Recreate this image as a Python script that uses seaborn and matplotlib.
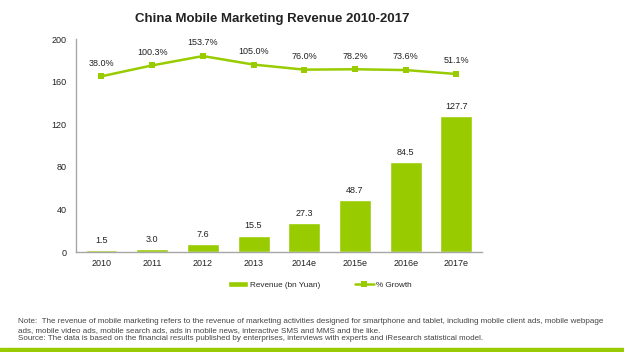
import matplotlib
matplotlib.use("Agg")
import matplotlib.pyplot as plt
import seaborn as sns
import pandas as pd
from matplotlib.patches import Rectangle

# chart data
years = ['2010', '2011', '2012', '2013', '2014e', '2015e', '2016e', '2017e']
revenue = [1.5, 3.0, 7.6, 15.5, 27.3, 48.7, 84.5, 127.7]
growth = [38.0, 100.3, 153.7, 105.0, 76.0, 78.2, 73.6, 51.1]
growth_labels = ['38.0%', '100.3%', '153.7%', '105.0%', '76.0%', '78.2%', '73.6%', '51.1%']

green = '#99CC00'
df = pd.DataFrame({'year': years, 'revenue': revenue, 'growth': growth})

sns.set_style('white')
plt.rcParams['font.family'] = ['Liberation Sans', 'DejaVu Sans']

fig = plt.figure(figsize=(6.24, 3.52), dpi=100)
ax = fig.add_axes([0.122, 0.284, 0.65, 0.605])

sns.barplot(data=df, x='year', y='revenue', color=green, width=0.63,
            saturation=1, ax=ax, label='Revenue (bn Yuan)')
for i, v in enumerate(revenue):
    ax.text(i, v + 5, f'{v:.1f}', ha='center', va='bottom', fontsize=6.5, color='#222222')

ax.set_ylim(0, 200)
ax.set_xlim(-0.5, 7.5)
ax.set_yticks([0, 40, 80, 120, 160, 200])
ax.set_xlabel('')
ax.set_ylabel('')
ax.tick_params(axis='both', labelsize=6.5, length=0, colors='#222222')
ax.tick_params(axis='y', pad=7)
ax.tick_params(axis='x', pad=5)
for s in ['top', 'right']:
    ax.spines[s].set_visible(False)
for s in ['left', 'bottom']:
    ax.spines[s].set_color('#A6A6A6')
    ax.spines[s].set_linewidth(1.0)

# growth on a hidden secondary axis
ax2 = ax.twinx()
sns.lineplot(x=list(range(len(years))), y=growth, ax=ax2, color=green, lw=1.8,
             marker='s', markersize=5, markeredgewidth=0, label='% Growth')
for i, (g, lab) in enumerate(zip(growth, growth_labels)):
    ax2.text(i, g + 50, lab, ha='center', va='bottom', fontsize=6.5, color='#222222')
ax2.set_ylim(-968, 251)
ax2.set_xlim(-0.5, 7.5)
ax2.axis('off')

h1, l1 = ax.get_legend_handles_labels()
h2, l2 = ax2.get_legend_handles_labels()
if ax.get_legend() is not None:
    ax.get_legend().remove()
if ax2.get_legend() is not None:
    ax2.get_legend().remove()
fig.legend(h1 + h2, l1 + l2, loc='center', bbox_to_anchor=(0.513, 0.19), ncol=2,
           frameon=False, fontsize=5.9, columnspacing=4.2, handlelength=2.4,
           handleheight=0.8, handletextpad=0.25)

fig.text(0.436, 0.945, 'China Mobile Marketing Revenue 2010-2017', ha='center',
         va='center', fontsize=9.5, fontweight='bold', color='#222222')

note = ('Note:  The revenue of mobile marketing refers to the revenue of marketing activities designed for smartphone and tablet, including mobile client ads, mobile webpage\n'
        'ads, mobile video ads, mobile search ads, ads in mobile news, interactive SMS and MMS and the like.\n'
        'Source: The data is based on the financial results published by enterprises, interviews with experts and iResearch statistical model.')
fig.text(0.029, 0.062, note, ha='left', va='center', fontsize=5.75, color='#444444',
         linespacing=1.35)

fig.patches.append(Rectangle((0, 0), 1, 0.01, transform=fig.transFigure,
                             color=green, zorder=0))

fig.savefig('out.png', dpi=100)
